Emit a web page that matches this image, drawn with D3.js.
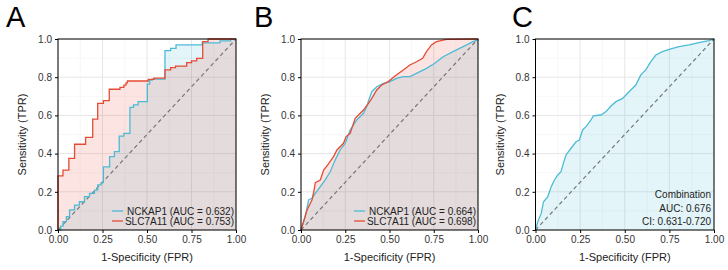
<!DOCTYPE html>
<html>
<head>
<meta charset="utf-8">
<script src="https://cdn.jsdelivr.net/npm/d3@7"></script>
<style>
  body { margin: 0; background: #fff; }
  svg { font-family: 'Liberation Sans', Arial, sans-serif; }
</style>
</head>
<body>
<div id="chart"></div>
<script>
// ROC points: [fpr, tpr]
// panel A steps (x where the rise happens, tpr after the rise)
const aNckap1 = [[0, 0], [0.015, 0.02], [0.028, 0.044], [0.047, 0.07], [0.065, 0.105], [0.093, 0.13],
  [0.12, 0.148], [0.149, 0.175], [0.177, 0.192], [0.205, 0.209], [0.223, 0.236], [0.242, 0.248],
  [0.255, 0.33], [0.29, 0.384], [0.317, 0.41], [0.344, 0.492], [0.37, 0.506], [0.404, 0.642],
  [0.424, 0.655], [0.45, 0.672], [0.502, 0.764], [0.515, 0.785], [0.53, 0.79], [0.601, 0.939],
  [0.633, 0.951], [0.663, 0.969], [0.81, 0.98], [0.91, 0.99], [0.97, 1], [1, 1]]
const aSlc7a11 = [[0, 0], [0, 0.283], [0.028, 0.314], [0.061, 0.375], [0.093, 0.449], [0.155, 0.485],
  [0.195, 0.58], [0.223, 0.663], [0.255, 0.677], [0.288, 0.737], [0.348, 0.747], [0.37, 0.759],
  [0.382, 0.77], [0.39, 0.78], [0.507, 0.789], [0.539, 0.795], [0.601, 0.838], [0.633, 0.85],
  [0.66, 0.858], [0.723, 0.876], [0.75, 0.885], [0.779, 0.899], [0.813, 0.986], [0.843, 1], [1, 1]]

const bNckap1 = [[0, 0], [0.024, 0.07], [0.043, 0.157], [0.062, 0.166], [0.081, 0.192], [0.109, 0.227],
  [0.137, 0.262], [0.165, 0.305], [0.193, 0.366], [0.221, 0.419], [0.25, 0.454], [0.278, 0.524],
  [0.315, 0.576], [0.353, 0.611], [0.371, 0.646], [0.386, 0.689], [0.4, 0.724], [0.428, 0.75],
  [0.465, 0.768], [0.503, 0.777], [0.54, 0.794], [0.578, 0.803], [0.615, 0.803], [0.672, 0.829],
  [0.709, 0.846], [0.756, 0.873], [0.803, 0.907], [0.859, 0.934], [0.916, 0.96], [0.972, 0.986],
  [1, 0.995], [1, 1]]
const bSlc7a11 = [[0, 0], [0.034, 0.105], [0.062, 0.157], [0.071, 0.195], [0.081, 0.248], [0.109, 0.262],
  [0.128, 0.314], [0.15, 0.34], [0.184, 0.384], [0.203, 0.419], [0.24, 0.454], [0.255, 0.489],
  [0.278, 0.506], [0.306, 0.585], [0.325, 0.602], [0.353, 0.628], [0.381, 0.663], [0.4, 0.689],
  [0.428, 0.733], [0.456, 0.759], [0.493, 0.777], [0.531, 0.806], [0.578, 0.838], [0.615, 0.864],
  [0.653, 0.881], [0.687, 0.899], [0.709, 0.934], [0.737, 0.969], [0.765, 0.986], [0.822, 0.998], [1, 1]]

const cCombination = [[0, 0], [0.013, 0.044], [0.032, 0.087], [0.045, 0.148], [0.069, 0.175], [0.088, 0.227],
  [0.106, 0.262], [0.125, 0.288], [0.143, 0.305], [0.156, 0.349], [0.171, 0.393], [0.199, 0.428],
  [0.227, 0.462], [0.246, 0.471], [0.264, 0.524], [0.283, 0.541], [0.311, 0.576], [0.324, 0.597],
  [0.367, 0.602], [0.395, 0.62], [0.423, 0.649], [0.451, 0.672], [0.488, 0.689], [0.516, 0.716],
  [0.544, 0.742], [0.562, 0.759], [0.59, 0.812], [0.618, 0.838], [0.646, 0.881], [0.674, 0.916],
  [0.711, 0.934], [0.749, 0.946], [0.804, 0.96], [0.86, 0.969], [0.916, 0.981], [0.972, 0.991], [1, 1]]

const xTicks = [0, 0.25, 0.5, 0.75, 1]
const yTicks = [0, 0.2, 0.4, 0.6, 0.8, 1]
const legendA = ['NCKAP1 (AUC = 0.632)', 'SLC7A11 (AUC = 0.753)']
const legendB = ['NCKAP1 (AUC = 0.664)', 'SLC7A11 (AUC = 0.698)']
const noteC = ['Combination', 'AUC: 0.676', 'CI: 0.631-0.720']

const red = '#E64B35'
const cyan = '#4DBBD5'

const svg = d3.select('#chart').append('svg').attr('width', 728).attr('height', 270)

function drawPanel(p) {
  const x = d3.scaleLinear().domain([0, 1]).range([p.left, p.right])
  const y = d3.scaleLinear().domain([0, 1]).range([230, 39])
  const g = svg.append('g')

  // grid
  const minorX = d3.range(0.125, 1, 0.25)
  const minorY = d3.range(0.1, 1, 0.2)
  g.selectAll('.mx').data(minorX).join('line')
    .attr('x1', d => x(d)).attr('x2', d => x(d)).attr('y1', y(0)).attr('y2', y(1))
    .attr('stroke', '#f2f2f2').attr('stroke-width', 0.6)
  g.selectAll('.my').data(minorY).join('line')
    .attr('y1', d => y(d)).attr('y2', d => y(d)).attr('x1', x(0)).attr('x2', x(1))
    .attr('stroke', '#f2f2f2').attr('stroke-width', 0.6)
  g.selectAll('.gx').data(xTicks).join('line')
    .attr('x1', d => x(d)).attr('x2', d => x(d)).attr('y1', y(0)).attr('y2', y(1))
    .attr('stroke', '#e6e6e6').attr('stroke-width', 1)
  g.selectAll('.gy').data(yTicks).join('line')
    .attr('y1', d => y(d)).attr('y2', d => y(d)).attr('x1', x(0)).attr('x2', x(1))
    .attr('stroke', '#e6e6e6').attr('stroke-width', 1)

  // fills under curves
  p.series.forEach(s => {
    const area = d3.area().x(d => x(d[0])).y0(y(0)).y1(d => y(d[1])).curve(p.curve)
    g.append('path').datum(s.data).attr('d', area).attr('fill', s.color).attr('fill-opacity', 0.15)
  })

  // diagonal
  g.append('line').attr('x1', x(0)).attr('y1', y(0)).attr('x2', x(1)).attr('y2', y(1))
    .attr('stroke', '#777').attr('stroke-width', 1.2).attr('stroke-dasharray', '4,3')

  p.series.forEach(s => {
    const line = d3.line().x(d => x(d[0])).y(d => y(d[1])).curve(p.curve)
    g.append('path').datum(s.data).attr('d', line).attr('fill', 'none')
      .attr('stroke', s.color).attr('stroke-width', 1.3)
  })

  // border
  g.append('rect').attr('x', x(0)).attr('y', y(1)).attr('width', x(1) - x(0)).attr('height', y(0) - y(1))
    .attr('fill', 'none').attr('stroke', '#000').attr('stroke-width', 1)

  // axes
  const ax = g.append('g').attr('transform', `translate(0,${y(0)})`)
    .call(d3.axisBottom(x).tickValues(xTicks).tickFormat(d3.format('.2f')).tickSize(3).tickPadding(3))
  const ay = g.append('g').attr('transform', `translate(${x(0)},0)`)
    .call(d3.axisLeft(y).tickValues(yTicks).tickFormat(d3.format('.1f')).tickSize(3).tickPadding(3))
  ;[ax, ay].forEach(a => {
    a.select('.domain').remove()
    a.selectAll('text').attr('font-size', 10).attr('fill', '#333').attr('font-family', null)
    a.selectAll('line').attr('stroke', '#000')
  })

  g.append('text').attr('x', (x(0) + x(1)) / 2).attr('y', 261).attr('text-anchor', 'middle')
    .attr('font-size', 11).attr('fill', '#222').text('1-Specificity (FPR)')
  g.append('text').attr('transform', `translate(${x(0) - 32},${(y(0) + y(1)) / 2}) rotate(-90)`)
    .attr('text-anchor', 'middle').attr('font-size', 11).attr('fill', '#222').text('Sensitivity (TPR)')

  g.append('text').attr('x', p.letterX).attr('y', 27).attr('font-size', 29).attr('fill', '#000').text(p.letter)

  if (p.legend) {
    p.legend.forEach((t, i) => {
      const ly = 211 + i * 10
      g.append('line').attr('x1', x(1) - 124).attr('x2', x(1) - 113).attr('y1', ly).attr('y2', ly)
        .attr('stroke', p.series[i].color).attr('stroke-width', 1.3)
      g.append('text').attr('x', x(1) - 2).attr('y', ly + 3.5).attr('text-anchor', 'end')
        .attr('font-size', 10).attr('fill', '#222').text(t)
    })
  }
  if (p.note) {
    p.note.forEach((t, i) => {
      g.append('text').attr('x', x(1) - 3).attr('y', 198 + i * 13.6).attr('text-anchor', 'end')
        .attr('font-size', 10).attr('fill', '#222').text(t)
    })
  }
}

drawPanel({ left: 58, right: 236, letter: 'A', letterX: 6, curve: d3.curveStepAfter,
  series: [{ data: aNckap1, color: cyan }, { data: aSlc7a11, color: red }], legend: legendA })
drawPanel({ left: 301, right: 478, letter: 'B', letterX: 254, curve: d3.curveLinear,
  series: [{ data: bNckap1, color: cyan }, { data: bSlc7a11, color: red }], legend: legendB })
drawPanel({ left: 535.5, right: 714, letter: 'C', letterX: 512, curve: d3.curveLinear,
  series: [{ data: cCombination, color: cyan }], note: noteC })
</script>
</body>
</html>
